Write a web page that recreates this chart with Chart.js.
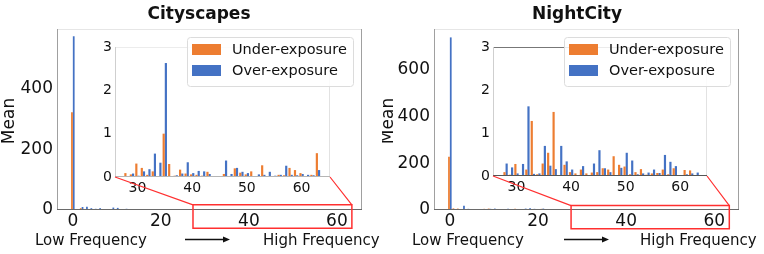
<!DOCTYPE html>
<html><head><meta charset="utf-8">
<script src="https://cdn.jsdelivr.net/npm/chart.js@4.4.1/dist/chart.umd.min.js"></script>
<style>
html,body{margin:0;padding:0;background:#fff;}
#wrap{position:relative;width:764px;height:254px;overflow:hidden;background:#fff;}
canvas{position:absolute;top:0;}
</style></head><body>
<div id="wrap">
<canvas id="mainL" width="400" height="254" style="left:0px;width:400px;height:254px"></canvas>
<canvas id="insL" width="400" height="254" style="left:0px;width:400px;height:254px"></canvas>
<canvas id="mainR" width="382" height="254" style="left:382px;width:382px;height:254px"></canvas>
<canvas id="insR" width="382" height="254" style="left:382px;width:382px;height:254px"></canvas>
</div>
<script>
// ---------------- DATA ----------------
const freqIndex = [0,1,2,3,4,5,6,7,8,9,10,11,12,13,14,15,16,17,18,19,20,21,22,23,24,25,26,27,28,29,30,31,
                   32,33,34,35,36,37,38,39,40,41,42,43,44,45,46,47,48,49,50,51,52,53,54,55,56,57,58,59,60,61,62,63];
const seriesNames = ['Under-exposure', 'Over-exposure'];
const panelTitles = ['Cityscapes', 'NightCity'];
const yAxisLabel = 'Mean';
const lowLabel = 'Low Frequency';
const highLabel = 'High Frequency';

const mainXTicks = [0, 20, 40, 60];
const cityYTicks = [0, 200, 400];
const nightYTicks = [0, 200, 400, 600];
const insetXTicks = [30, 40, 50, 60];
const insetYTicks = [0, 1, 2, 3];

const cityUnder = [323,3,6,2,1,1,2,1,2,1,1,1,0.5,0.6,0.4,0.5,0.3,0.4,0.3,0.2,0.3,0.2,0.2,0.1,0.1,0.1,0,0,
  0.09,0.06,0.31,0.21,0.05,0.13,0.01,1.00,0.30,0.03,0.17,0.08,0.06,0.05,0.03,0.12,0.02,0.02,
  0.07,0.00,0.20,0.10,0.06,0.13,0.02,0.27,0.00,0.02,0.05,0.04,0.21,0.16,0.09,0.00,0.05,0.55];
const cityOver = [574,1,10,11,6,4,6,3,2,8,7,2,4,1.2,0.8,1.0,0.6,0.9,0.5,0.7,0.4,0.5,0.3,0.4,0.2,0.2,0,0,
  0.02,0.08,0.03,0.13,0.18,0.54,0.33,2.63,0.02,0.04,0.08,0.34,0.09,0.14,0.13,0.07,0.01,0.01,
  0.38,0.07,0.21,0.12,0.09,0.02,0.06,0.05,0.12,0.03,0.05,0.26,0.05,0.04,0.07,0.05,0.04,0.16];
const nightUnder = [228,7,6,3,4,2,1,4,5,6,3,2,4,3,2,5,3,2,4,3,2,5,3,2,1,1,0,0,
  0.09,0.03,0.28,0.00,0.15,1.28,0.04,0.29,0.54,1.49,0.02,0.26,0.09,0.06,0.15,0.06,0.08,0.09,
  0.18,0.15,0.46,0.26,0.22,0.04,0.09,0.16,0.03,0.06,0.07,0.15,0.04,0.18,0.00,0.14,0.13,0.00];
const nightOver = [740,3,4,18,5,2,1,2,3,5,6,3,2,5,4,3,4,6,7,5,4,6,2,3,2,1,0,0,
  0.29,0.20,0.06,0.28,1.62,0.05,0.06,0.70,0.24,0.16,0.70,0.34,0.15,0.00,0.23,0.00,0.29,0.60,
  0.18,0.09,0.00,0.19,0.54,0.36,0.04,0.06,0.08,0.15,0.07,0.49,0.33,0.23,0.02,0.04,0.06,0.08];

// ---------------- STYLE ----------------
const ORANGE = '#ED7D31', BLUE = '#4472C4', RED = '#ff3030';
const FONT = "'DejaVu Sans', sans-serif";
Chart.defaults.font.family = FONT;
Chart.defaults.color = '#111';

function makeDatasets(under, over) {
  const src = [under, over], cols = [ORANGE, BLUE];
  return src.map((arr, k) => ({
    label: seriesNames[k],
    data: freqIndex.map((x, i) => ({x: x, y: arr[i]})),
    backgroundColor: cols[k],
    borderWidth: 0,
    categoryPercentage: 0.8,
    barPercentage: 1.0,
    clip: 0
  }));
}

function tickSetter(list) { return s => { s.ticks = list.map(v => ({value: v})); }; }
function fixW(w) { return s => { s.width = w; }; }
function fixH(h) { return s => { s.height = h; }; }

function line(ctx, x0, y0, x1, y1, color, w) {
  ctx.save(); ctx.strokeStyle = color; ctx.lineWidth = w || 1;
  ctx.beginPath(); ctx.moveTo(x0, y0); ctx.lineTo(x1, y1); ctx.stroke(); ctx.restore();
}

function makeMain(id, P, under, over, yTicks, title) {
  const M = P.main;
  const axisH = 30;
  return new Chart(document.getElementById(id), {
    type: 'bar',
    data: { datasets: makeDatasets(under, over) },
    options: {
      responsive: false, animation: false, devicePixelRatio: 1,
      layout: { padding: { left: 0, top: M.top, right: P.W - M.right, bottom: 254 - M.bottom - axisH } },
      plugins: { legend: { display: false }, tooltip: { enabled: false } },
      scales: {
        x: { type: 'linear', offset: false, min: M.xMin, max: M.xMax, afterBuildTicks: tickSetter(mainXTicks), afterFit: fixH(axisH),
             grid: { display: false, drawTicks: false }, border: { display: false },
             ticks: { padding: 1, font: { size: 17 }, color: '#111', maxRotation: 0 } },
        y: { min: 0, max: M.yMax, afterBuildTicks: tickSetter(yTicks), afterFit: fixW(M.left),
             grid: { display: false, drawTicks: false }, border: { display: false },
             ticks: { padding: 4, font: { size: 17 }, color: '#111' } }
      }
    },
    plugins: [{
      id: 'mainDeco',
      afterDatasetsDraw(c) {
        const a = c.chartArea, ctx = c.ctx;
        line(ctx, a.left, a.top + 0.5, a.right, a.top + 0.5, '#e6e6e6', 1);
        line(ctx, a.right - 0.5, a.top, a.right - 0.5, a.bottom, '#a0a0a0', 1);
        line(ctx, a.left + 0.5, a.top, a.left + 0.5, a.bottom, '#a0a0a0', 1);
        line(ctx, a.left, a.bottom - 0.5, a.right, a.bottom - 0.5, '#6a6a6a', 1);
      },
      afterDraw(c) {
        const ctx = c.ctx, T = P.text;
        ctx.save(); ctx.fillStyle = '#111';
        ctx.font = 'bold 17px ' + FONT; ctx.textAlign = 'center'; ctx.textBaseline = 'alphabetic';
        ctx.fillText(title, T.titleX, 18.5);
        ctx.save(); ctx.translate(T.meanX, 121); ctx.rotate(-Math.PI / 2);
        ctx.font = '17px ' + FONT; ctx.textBaseline = 'middle'; ctx.fillText(yAxisLabel, 0, 0); ctx.restore();
        ctx.font = '15px ' + FONT; ctx.textAlign = 'left'; ctx.textBaseline = 'alphabetic';
        ctx.fillText(lowLabel, T.lowX, 245);
        ctx.fillText(highLabel, T.highX, 245);
        ctx.strokeStyle = '#111'; ctx.lineWidth = 1.3;
        ctx.beginPath(); ctx.moveTo(T.arrow[0], 239.5); ctx.lineTo(T.arrow[1] - 4, 239.5); ctx.stroke();
        ctx.beginPath(); ctx.moveTo(T.arrow[1], 239.5); ctx.lineTo(T.arrow[1] - 7, 236.5); ctx.lineTo(T.arrow[1] - 7, 242.5); ctx.closePath(); ctx.fill();
        ctx.restore();
      }
    }]
  });
}

function makeInset(id, P, under, over, main) {
  const A = P.inset;
  const axisW = 24, axisH = 24;
  return new Chart(document.getElementById(id), {
    type: 'bar',
    data: { datasets: makeDatasets(under, over) },
    options: {
      responsive: false, animation: false, devicePixelRatio: 1,
      layout: { padding: { left: A.left - axisW, top: A.top, right: P.W - A.right, bottom: 254 - A.bottom - axisH } },
      plugins: { legend: { display: false }, tooltip: { enabled: false } },
      scales: {
        x: { type: 'linear', offset: false, min: A.xMin, max: A.xMax, afterBuildTicks: tickSetter(insetXTicks), afterFit: fixH(axisH),
             grid: { display: false, drawTicks: false }, border: { display: false },
             ticks: { padding: 3, font: { size: 14 }, color: '#111', maxRotation: 0 } },
        y: { min: 0, max: 3, afterBuildTicks: tickSetter(insetYTicks), afterFit: fixW(axisW),
             grid: { display: false, drawTicks: false }, border: { display: false },
             ticks: { padding: 3, font: { size: 14 }, color: '#111' } }
      }
    },
    plugins: [{
      id: 'insetDeco',
      beforeDraw(c) {
        const a = c.chartArea, ctx = c.ctx;
        ctx.save(); ctx.fillStyle = '#fff'; ctx.fillRect(a.left, a.top, a.right - a.left, a.bottom - a.top); ctx.restore();
      },
      afterDatasetsDraw(c) {
        const a = c.chartArea, ctx = c.ctx;
        line(ctx, a.left, a.top + 0.5, a.right, a.top + 0.5, A.topColor, 1);
        line(ctx, a.right - 0.5, a.top, a.right - 0.5, a.bottom, '#e2e2e2', 1);
        line(ctx, a.left + 0.5, a.top, a.left + 0.5, a.bottom, '#cfcfcf', 1);
        line(ctx, a.left, a.bottom - 0.5, a.right, a.bottom - 0.5, A.bottomColor, 1);
      },
      afterDraw(c) {
        const ctx = c.ctx, L = P.legend, B = P.box, ia = c.chartArea;
        // zoom box on the main axes + connectors to the inset corners
        const xs = main.scales.x, ys = main.scales.y;
        const bx0 = xs.getPixelForValue(B.x0), bx1 = xs.getPixelForValue(B.x1);
        const by0 = ys.getPixelForValue(B.y1), by1 = ys.getPixelForValue(B.y0);
        ctx.save();
        ctx.strokeStyle = RED; ctx.lineWidth = 1.5;
        ctx.beginPath();
        ctx.moveTo(bx0, by0); ctx.lineTo(bx1, by0); ctx.lineTo(bx1, by1); ctx.lineTo(bx0, by1); ctx.closePath();
        ctx.stroke();
        ctx.lineWidth = 1.2;
        ctx.beginPath();
        ctx.moveTo(ia.left, ia.bottom); ctx.lineTo(bx0, by0);
        ctx.moveTo(ia.right, ia.bottom); ctx.lineTo(bx1, by0);
        ctx.stroke();
        ctx.restore();
        // legend
        ctx.save();
        ctx.globalAlpha = 0.85;
        ctx.fillStyle = '#fff';
        ctx.beginPath(); ctx.roundRect(L.x + 0.5, L.y + 0.5, L.w, L.h, 3); ctx.fill();
        ctx.globalAlpha = 1;
        ctx.strokeStyle = '#dcdcdc'; ctx.lineWidth = 1; ctx.stroke();
        c.data.datasets.forEach((ds, k) => {
          const y = L.y + 7 + k * 21;
          ctx.fillStyle = ds.backgroundColor;
          ctx.fillRect(L.x + 5, y, 29, 11);
          ctx.fillStyle = '#111';
          ctx.font = '14.5px ' + FONT;
          ctx.textBaseline = 'middle'; ctx.textAlign = 'left';
          ctx.fillText(ds.label, L.x + 45, y + 6);
        });
        ctx.restore();
      }
    }]
  });
}

const LEFT = {
  W: 400,
  main: { left: 57, top: 29, right: 362, bottom: 210, xMin: -3.6, xMax: 65.7, yMax: 598 },
  inset: { left: 115, top: 47, right: 330, bottom: 177, xMin: 25.9, xMax: 65.2, topColor: '#ececec', bottomColor: '#b5b5b5' },
  legend: { x: 187, y: 37, w: 166, h: 49 },
  box: { x0: 27.3, x1: 63.4, y0: -60, y1: 17 },
  text: { titleX: 199, meanX: 10, lowX: 35, highX: 263, arrow: [185, 230] }
};
const RIGHT = {
  W: 382,
  main: { left: 52, top: 29, right: 357, bottom: 210, xMin: -3.6, xMax: 65.6, yMax: 776 },
  inset: { left: 111, top: 47, right: 325, bottom: 176, xMin: 25.7, xMax: 64.9, topColor: '#777', bottomColor: '#555' },
  legend: { x: 182, y: 37, w: 166, h: 49 },
  box: { x0: 27.5, x1: 63.4, y0: -80, y1: 19 },
  text: { titleX: 195, meanX: 7, lowX: 30, highX: 258, arrow: [182, 227] }
};

const mainL = makeMain('mainL', LEFT, cityUnder, cityOver, cityYTicks, panelTitles[0]);
const insL = makeInset('insL', LEFT, cityUnder, cityOver, mainL);
const mainR = makeMain('mainR', RIGHT, nightUnder, nightOver, nightYTicks, panelTitles[1]);
const insR = makeInset('insR', RIGHT, nightUnder, nightOver, mainR);
</script>
</body></html>
